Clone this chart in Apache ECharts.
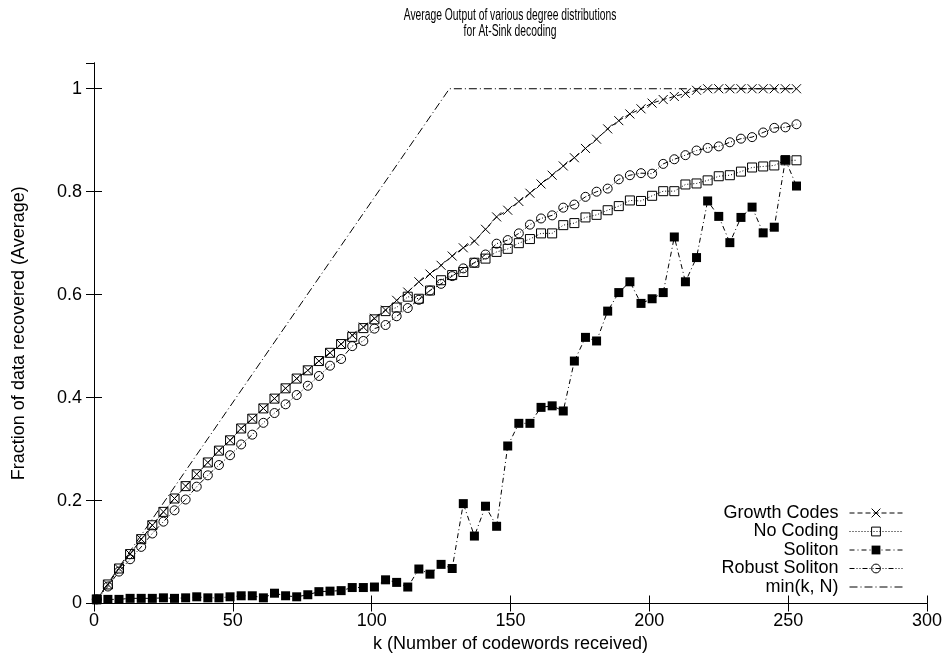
<!DOCTYPE html>
<html>
<head>
<meta charset="utf-8">
<script src="https://cdn.jsdelivr.net/npm/echarts@6/dist/echarts.min.js"></script>
<style>html,body{margin:0;padding:0;background:#fff}#c{width:948px;height:662px}</style>
</head>
<body>
<div id="c"></div>
<script>
var kValues = [1,5,9,13,17,21,25,29,33,37,41,45,49,53,57,61,65,69,73,77,81,85,89,93,97,101,105,109,113,117,121,125,129,133,137,141,145,149,153,157,161,165,169,173,177,181,185,189,193,197,201,205,209,213,217,221,225,229,233,237,241,245,249,253];
var growthCodes = [0.008,0.037,0.068,0.096,0.125,0.152,0.178,0.204,0.228,0.251,0.274,0.297,0.317,0.340,0.359,0.379,0.398,0.418,0.437,0.453,0.471,0.487,0.504,0.521,0.537,0.554,0.570,0.589,0.605,0.625,0.640,0.657,0.675,0.691,0.704,0.727,0.751,0.764,0.781,0.797,0.815,0.832,0.850,0.866,0.884,0.902,0.922,0.938,0.951,0.961,0.972,0.979,0.985,0.991,0.997,1.0,1.0,1.0,1.0,1.0,1.0,1.0,1.0,1.0];
var noCoding = [0.008,0.037,0.068,0.096,0.125,0.152,0.178,0.204,0.228,0.251,0.274,0.297,0.317,0.340,0.359,0.379,0.398,0.418,0.437,0.453,0.471,0.487,0.504,0.518,0.535,0.552,0.568,0.575,0.596,0.592,0.608,0.628,0.638,0.644,0.662,0.670,0.683,0.689,0.700,0.708,0.719,0.719,0.735,0.739,0.750,0.755,0.764,0.772,0.783,0.782,0.792,0.801,0.801,0.814,0.816,0.822,0.830,0.832,0.839,0.847,0.849,0.851,0.861,0.861];
var soliton = [0.008,0.008,0.008,0.010,0.010,0.010,0.011,0.010,0.011,0.013,0.011,0.011,0.013,0.015,0.015,0.011,0.020,0.015,0.013,0.017,0.023,0.024,0.025,0.031,0.031,0.032,0.046,0.041,0.032,0.067,0.057,0.076,0.068,0.194,0.131,0.189,0.150,0.306,0.350,0.350,0.381,0.384,0.374,0.471,0.517,0.510,0.568,0.604,0.625,0.583,0.592,0.604,0.712,0.625,0.672,0.782,0.752,0.701,0.750,0.770,0.720,0.731,0.862,0.811];
var robustSoliton = [0.008,0.033,0.062,0.086,0.110,0.136,0.159,0.181,0.202,0.227,0.249,0.269,0.288,0.309,0.328,0.351,0.370,0.387,0.405,0.423,0.442,0.462,0.475,0.500,0.510,0.534,0.541,0.558,0.574,0.590,0.608,0.621,0.636,0.651,0.662,0.678,0.699,0.706,0.719,0.736,0.748,0.754,0.769,0.775,0.790,0.800,0.806,0.824,0.832,0.836,0.835,0.854,0.863,0.871,0.880,0.885,0.888,0.896,0.903,0.906,0.915,0.924,0.925,0.931];
var minK = [0, 128, 253];
var minKN = [0, 1, 1];
var seriesNames = ['Growth Codes','No Coding','Soliton','Robust Soliton','min(k, N)'];
var titleLines = ['Average Output of various degree distributions', 'for At-Sink decoding'];
var yTicks = [0,0.2,0.4,0.6,0.8,1];

function pairs(xs, ys){ return xs.map(function(x,i){ return [x, ys[i]]; }); }

var FONT = "'Liberation Sans', Arial, sans-serif";
var hollow = {color:'rgba(0,0,0,0)', borderColor:'#000', borderWidth:1};
var chart = echarts.init(document.getElementById('c'), null, {renderer:'canvas'});
var axisCommon = {
  axisLine:{show:true, lineStyle:{color:'#000', width:1}},
  axisTick:{show:true, inside:true, length:8, lineStyle:{color:'#000'}},
  splitLine:{show:false}
};
chart.setOption({
  animation:false,
  backgroundColor:'#fff',
  graphic:[{
    type:'text', x:510, y:7, scaleX:0.645, scaleY:1.08,
    style:{text:titleLines.join('\n'), fontFamily:FONT, fontSize:16, lineHeight:15,
      textAlign:'center', textVerticalAlign:'top', fill:'#000'}
  }],
  grid:{left:94, right:21, top:63, bottom:58.5, containLabel:false},
  legend:{
    orient:'vertical', right:40, bottom:61, align:'right',
    itemWidth:53, itemHeight:11, itemGap:0.5,
    lineStyle:{width:1, color:'#000'},
    textStyle:{fontFamily:FONT, fontSize:18, color:'#000', lineHeight:18, padding:[0,6,0,0]},
    data:[
      {name:seriesNames[0], itemStyle:{color:'rgba(0,0,0,0)', borderColor:'#000', borderWidth:1}},
      {name:seriesNames[1], itemStyle:{color:'rgba(0,0,0,0)', borderColor:'#000', borderWidth:1}},
      {name:seriesNames[2], itemStyle:{color:'#000', borderWidth:0}},
      {name:seriesNames[3], itemStyle:{color:'rgba(0,0,0,0)', borderColor:'#000', borderWidth:1}},
      {name:seriesNames[4], itemStyle:{color:'rgba(0,0,0,0)', borderColor:'rgba(0,0,0,0)', borderWidth:0}}
    ]
  },
  xAxis:[
    Object.assign({type:'value', min:0, max:300, interval:50, position:'bottom',
      name:'k (Number of codewords received)', nameLocation:'middle', nameGap:28,
      nameTextStyle:{fontFamily:FONT, fontSize:18, color:'#000'},
      axisLabel:{fontFamily:FONT, fontSize:18, color:'#000', margin:9}}, axisCommon),
    Object.assign({type:'value', min:0, max:300, interval:50, position:'top',
      axisLabel:{show:false}}, axisCommon)
  ],
  yAxis:[
    Object.assign({type:'value', min:0, max:1.05, interval:0.2, position:'left',
      name:'Fraction of data recovered (Average)', nameLocation:'middle', nameGap:66,
      nameTextStyle:{fontFamily:FONT, fontSize:18, color:'#000'},
      axisLabel:{fontFamily:FONT, fontSize:18, color:'#000', margin:12, showMaxLabel:false,
        formatter:function(v){ var r = Math.round(v*10)/10; return (yTicks.indexOf(r)>=0 && Math.abs(v-r)<1e-6) ? String(r) : ''; }}}, axisCommon),
    Object.assign({type:'value', min:0, max:1.05, interval:0.2, position:'right',
      axisLabel:{show:false}}, axisCommon)
  ],
  series:[
    {name:seriesNames[0], type:'line', data:pairs(kValues, growthCodes), showAllSymbol:true,
     symbol:'path://M0,0L10,10M10,0L0,10', symbolSize:9, color:'#000',
     lineStyle:{color:'#000', width:1, type:[5,3]}, itemStyle:hollow},
    {name:seriesNames[1], type:'line', data:pairs(kValues, noCoding), showAllSymbol:true,
     symbol:'rect', symbolSize:9, color:'#000',
     lineStyle:{color:'#000', width:1, type:[1,2]}, itemStyle:hollow},
    {name:seriesNames[2], type:'line', data:pairs(kValues, soliton), showAllSymbol:true,
     symbol:'rect', symbolSize:9, color:'#000',
     lineStyle:{color:'#000', width:1, type:[5,3,1,3]}, itemStyle:{color:'#000'}},
    {name:seriesNames[3], type:'line', data:pairs(kValues, robustSoliton), showAllSymbol:true,
     symbol:'circle', symbolSize:9, color:'#000',
     lineStyle:{color:'#000', width:1, type:[5,2,1,2,1,2]}, itemStyle:hollow},
    {name:seriesNames[4], type:'line', data:pairs(minK, minKN), showSymbol:false, symbol:'none', color:'#000',
     lineStyle:{color:'#000', width:1, type:[8,3,1,3]}}
  ]
});
</script>
</body>
</html>
